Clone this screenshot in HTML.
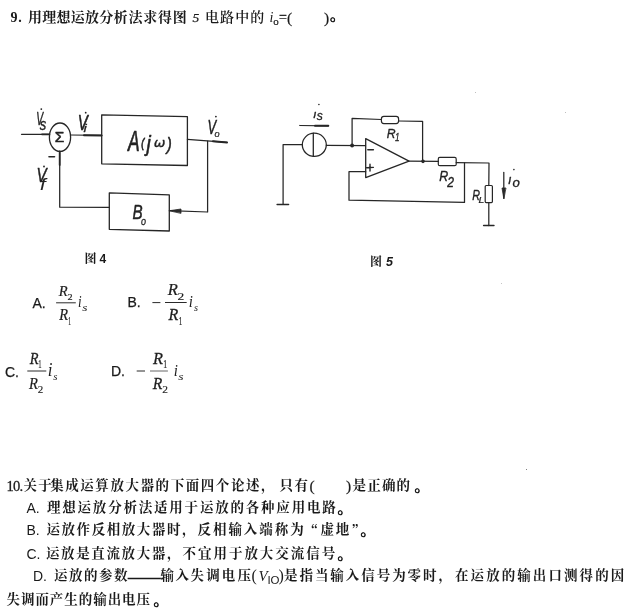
<!DOCTYPE html>
<html lang="zh">
<head>
<meta charset="utf-8">
<title>运放试题</title>
<style>
html,body{margin:0;padding:0;background:#fff;}
body{width:630px;height:611px;position:relative;overflow:hidden;color:#1a1a1a;
  font-family:"Liberation Serif","Noto Serif CJK SC",serif;}
.ln{position:absolute;white-space:nowrap;font-size:14px;line-height:20px;font-weight:600;letter-spacing:0.4px;}
.ln span{position:absolute;top:0;white-space:nowrap;}
.sans{font-family:"Liberation Sans","Noto Sans CJK SC",sans-serif;font-weight:400;letter-spacing:0;}
.q .sans{font-size:14px;}
.q{font-size:13.5px;letter-spacing:1.6px;font-weight:700;}
.ln{left:0;width:630px;}
.ln span.cj{position:static;font-family:"Noto Serif CJK SC",serif;}
.ln span.pp{letter-spacing:0;font-weight:400;font-size:15.5px;-webkit-text-stroke:0.2px #1a1a1a;}
.ln span.dot{font-weight:900;font-size:15px;-webkit-text-stroke:0.6px #1a1a1a;}
.ln span.cj2{font-family:"Noto Serif CJK SC",serif;letter-spacing:0;}
.ln i.p{font-style:normal;letter-spacing:0;font-weight:400;}
.ln i.v{font-style:italic;letter-spacing:0;font-weight:400;}
.ln b.g{display:inline-block;width:1.5px;height:1px;}
.ln sub{font-size:9.5px;vertical-align:baseline;position:relative;top:2.5px;letter-spacing:0;}
.it{font-style:italic;}
.fig{position:absolute;font-size:12px;line-height:14px;font-weight:700;white-space:nowrap;}
.opt{position:absolute;font-family:"Liberation Sans",sans-serif;font-size:14px;line-height:16px;white-space:nowrap;-webkit-text-stroke:0.25px #1a1a1a;}
.m{position:absolute;font-family:"Liberation Serif",serif;font-style:italic;font-size:15.5px;line-height:16px;white-space:nowrap;}
.m sub{font-style:normal;font-size:9px;vertical-align:baseline;position:relative;top:3px;left:0.5px;}
.sp{position:absolute;border-radius:50%;}
#pg{position:absolute;left:0;top:0;width:630px;height:611px;will-change:transform;}
svg{position:absolute;left:0;top:0;}
.lb{font-size:100px;fill:#222;stroke:#222;stroke-width:2.5px;}
.lb circle{stroke:none;}
.fm{font-size:100px;fill:#1e1e1e;stroke:#1e1e1e;stroke-width:1.5px;}
</style>
</head>
<body>
<div id="pg">

<!-- question 9 -->
<div class="ln" style="top:8px;font-weight:600;letter-spacing:0.25px;">
  <span style="left:10.5px;letter-spacing:0.8px;font-weight:700;">9.</span>
  <span style="left:28px;font-weight:700;">用理想运放分析</span>
  <span style="left:128.5px;letter-spacing:0.75px;font-weight:700;">法求得图</span>
  <span style="left:192.5px;font-weight:400;font-size:13.5px;-webkit-text-stroke:0.25px #1a1a1a;" class="it">5</span>
  <span style="left:205px;letter-spacing:1.1px;">电路中的</span>
  <span style="left:269.5px;letter-spacing:0;font-weight:400;font-style:italic;">i</span>
  <span style="left:273.3px;top:3px;letter-spacing:0;font-weight:400;font-size:11px;-webkit-text-stroke:0.2px #1a1a1a;">o</span>
  <span style="left:279px;letter-spacing:0;font-weight:400;-webkit-text-stroke:0.3px #1a1a1a;">=</span>
  <span style="left:287px;top:-0.5px;" class="pp">(</span>
  <span style="left:324px;top:-0.5px;" class="pp">)</span>
  <span style="left:330px;top:-3px;" class="dot">。</span>
</div>

<!-- diagrams -->
<svg width="630" height="611" viewBox="0 0 630 611" fill="none" stroke="#262626" stroke-width="1.25" stroke-linecap="round" stroke-linejoin="round">
  <!-- figure 4 : feedback block diagram -->
  <g id="fig4">
    <path d="M21.5 134.3 L49.4 134.3"/>
    <path d="M42 134.3 L49.4 134.3" stroke-width="1.8"/>
    <ellipse cx="60" cy="137.2" rx="10.6" ry="14.2" stroke-width="1.3"/>
    <path d="M70.6 135 L101.6 135.4"/>
    <path d="M84 135.2 L101.6 135.4" stroke-width="2"/>
    <path d="M101.7 114.8 L187.4 116.7 L187.4 165.5 L101.7 163.8 Z" stroke-width="1.3"/>
    <path d="M187.4 139.3 L227 142.4"/>
    <path d="M213 141.3 L227 142.4" stroke-width="2"/>
    <path d="M207.6 141 L207.6 212 L169.3 210.7"/>
    <path d="M169.5 210.7 L181 209 L181 213 Z" fill="#2a2a2a" stroke-width="0.8"/>
    <path d="M109.3 192.9 L169.3 194.8 L169.3 231 L109.3 229.3 Z" stroke-width="1.3"/>
    <path d="M109.3 207.4 L59.7 207.2 L59.7 151.4"/>
    <path d="M59.7 151.4 L59.7 165" stroke-width="1.8"/>
    <path d="M49 156.8 L54.5 156.8" stroke-width="1.6"/>
  </g>
  <g class="lb">
<!--L4--><text transform="matrix(0.1030 0 0 0.1754 36.28 124.80)" font-family="'Liberation Sans'" font-style="italic">V</text>
    <text transform="matrix(0.1292 0 0 0.1636 39.80 130.14)" font-family="'Liberation Sans'" font-style="italic">s</text>
    <text transform="matrix(0.1507 0 0 0.2203 77.79 129.80)" font-family="'Liberation Sans'" font-style="italic">V</text>
    <text transform="matrix(0.1458 0 0 0.1041 83.55 132.40)" font-family="'Liberation Sans'" font-style="italic">i</text>
    <text transform="matrix(0.1522 0 0 0.1971 36.48 182.40)" font-family="'Liberation Sans'" font-style="italic">V</text>
    <text transform="matrix(0.2029 0 0 0.1740 39.99 190.00)" font-family="'Liberation Sans'" font-style="italic" stroke-width="0.5">f</text>
    <text transform="matrix(0.1299 0 0 0.1942 207.56 133.70)" font-family="'Liberation Sans'" font-style="italic">V</text>
    <text transform="matrix(0.0920 0 0 0.0927 214.52 136.71)" font-family="'Liberation Sans'" font-style="italic">o</text>
    <text transform="matrix(0.1547 0 0 0.1377 54.73 141.90)" font-family="'Liberation Sans'" font-style="normal" stroke-width="3.5">Σ</text>
    <text transform="matrix(0.1746 0 0 0.2957 127.97 151.00)" font-family="'Liberation Sans'" font-style="italic">A</text>
    <text transform="matrix(0.0921 0 0 0.1351 141.13 146.66)" font-family="'Liberation Sans'" font-style="italic" stroke-width="6">(</text>
    <text transform="matrix(0.1919 0 0 0.2277 146.60 151.02)" font-family="'Liberation Sans'" font-style="italic">j</text>
    <text transform="matrix(0.1392 0 0 0.1232 153.66 146.88)" font-family="'DejaVu Sans'" font-style="italic">ω</text>
    <text transform="matrix(0.1526 0 0 0.1872 166.73 149.97)" font-family="'Liberation Sans'" font-style="italic">)</text>
    <text transform="matrix(0.1525 0 0 0.2087 132.54 219.00)" font-family="'Liberation Sans'" font-style="italic">B</text>
    <text transform="matrix(0.0900 0 0 0.1127 141.03 225.09)" font-family="'Liberation Sans'" font-style="italic">o</text><!--/L4-->
    <circle cx="41.3" cy="109.1" r="0.9"/><circle cx="85.7" cy="112.7" r="0.9"/><circle cx="44" cy="166.5" r="0.9"/><circle cx="215.9" cy="116.6" r="0.9"/>
  </g>

  <!-- figure 5 : op-amp circuit -->
  <g id="fig5">
    <ellipse cx="314.3" cy="144.8" rx="12" ry="11.6" stroke-width="1.3"/>
    <path d="M313.3 133.2 L313.3 156.4" stroke-width="1.3"/>
    <path d="M302.2 144.5 L283.1 144.5 L283.1 204.3"/>
    <path d="M277.1 204.5 L288.6 204.5" stroke-width="1.4"/>
    <path d="M299.8 125.5 L328.3 125.8"/>
    <path d="M315 125.7 L328.3 125.8" stroke-width="2"/>
    <path d="M326.4 145.3 L365.5 145.7"/>
    <circle cx="352.1" cy="145.5" r="1.3" fill="#2a2a2a"/>
    <path d="M352.1 145.5 L352.1 118.3 L381.4 119.5"/>
    <rect x="381.4" y="116.4" width="17.2" height="7.2" rx="2.5" ry="2.5" stroke-width="1.2"/>
    <path d="M398.6 121 L422.6 121.3 L422.6 161.2"/>
    <path d="M365.7 138.6 L365.7 177.6 L409 161.2 Z" stroke-width="1.3"/>
    <path d="M367.8 149.8 L373.4 149.8" stroke-width="1.4"/>
    <path d="M366.6 167.8 L373.4 167.4 M370 164.3 L370 171" stroke-width="1.4"/>
    <path d="M365.7 171.7 L349 171.7 L349 200.2 L464.5 202.4 L464.5 162.9"/>
    <path d="M408 161.2 L438.3 161.4"/>
    <circle cx="423" cy="161.3" r="1.2" fill="#2a2a2a"/>
    <rect x="438.3" y="157.4" width="17.9" height="8.3" rx="1.5" ry="1.5" stroke-width="1.2"/>
    <path d="M456.2 162.6 L489 163 L488.8 185.5"/>
    <rect x="485.2" y="185.5" width="7.2" height="17.1" rx="1" ry="1" stroke-width="1.2"/>
    <path d="M488.8 202.6 L488.8 225.5"/>
    <path d="M483.6 225.5 L494 225.5" stroke-width="1.4"/>
    <path d="M503.8 172.4 L503.8 198"/>
    <path d="M503.8 198.6 L502 188 L505.6 188 Z" fill="#2a2a2a" stroke-width="0.8"/>
  </g>
  <g class="lb">
<!--L5--><text transform="matrix(0.1300 0 0 0.1170 313.08 117.50)" font-family="'Liberation Sans'" font-style="italic">ı</text>
    <text transform="matrix(0.1208 0 0 0.1200 316.80 120.48)" font-family="'Liberation Sans'" font-style="italic">s</text>
    <text transform="matrix(0.1224 0 0 0.1329 386.63 138.20)" font-family="'Liberation Sans'" font-style="italic">R</text>
    <text transform="matrix(0.0826 0 0 0.1058 395.03 141.30)" font-family="'Liberation Sans'" font-style="italic">1</text>
    <text transform="matrix(0.1239 0 0 0.1486 439.23 181.00)" font-family="'Liberation Sans'" font-style="italic">R</text>
    <text transform="matrix(0.1214 0 0 0.1471 447.32 186.70)" font-family="'Liberation Sans'" font-style="italic">2</text>
    <text transform="matrix(0.1075 0 0 0.1400 472.28 200.00)" font-family="'Liberation Sans'" font-style="italic">R</text>
    <text transform="matrix(0.1043 0 0 0.0899 478.49 202.60)" font-family="'Liberation Sans'" font-style="italic">L</text>
    <text transform="matrix(0.1300 0 0 0.1358 508.08 184.00)" font-family="'Liberation Sans'" font-style="italic">ı</text>
    <text transform="matrix(0.1320 0 0 0.1200 512.50 186.98)" font-family="'Liberation Sans'" font-style="italic">o</text><!--/L5-->
    <circle cx="318.9" cy="104.5" r="0.8"/><circle cx="513.9" cy="169.6" r="0.8"/>
  </g>
</svg>

<div class="fig" style="left:84.5px;top:251.5px;">图</div>
<div class="fig sans" style="left:99.5px;top:251.5px;font-size:12px;">4</div>
<div class="fig" style="left:370px;top:254.5px;">图</div>
<div class="fig sans it" style="left:386px;top:255px;font-size:12.5px;">5</div>

<!-- options -->
<div class="opt" style="left:32.5px;top:294.5px;">A.</div>
<div class="opt" style="left:127.5px;top:294px;">B.</div>
<div class="opt" style="left:5px;top:363.5px;">C.</div>
<div class="opt" style="left:111px;top:363px;">D.</div>
<svg width="630" height="611" viewBox="0 0 630 611">
  <g stroke="#2a2a2a" stroke-width="1" fill="none">
    <path d="M56.1 302.8 H75.8"/>
    <path d="M152.4 302.6 H160.4"/><path d="M165 302.5 H186.7"/>
    <path d="M27.3 371 H46.3"/>
    <path d="M136.7 371 H145"/><path d="M150 371 H167.9" stroke="#666"/>
  </g>
  <g class="fm">
    <!--L6--><text transform="matrix(0.1459 0 0 0.1485 58.85 295.65)" font-family="'Liberation Serif'" font-style="italic">R</text>
    <text transform="matrix(0.1024 0 0 0.0910 67.39 299.51)" font-family="'Liberation Serif'" font-style="normal">2</text>
    <text transform="matrix(0.1443 0 0 0.1621 59.14 320.34)" font-family="'Liberation Serif'" font-style="italic">R</text>
    <text transform="matrix(0.0556 0 0 0.1227 68.16 324.80)" font-family="'Liberation Serif'" font-style="normal">1</text>
    <text transform="matrix(0.1300 0 0 0.1642 78.05 306.64)" font-family="'Liberation Serif'" font-style="italic" stroke="none">i</text>
    <text transform="matrix(0.1343 0 0 0.1104 82.17 311.19)" font-family="'Liberation Serif'" font-style="italic" stroke="none">s</text>
    <text transform="matrix(0.1656 0 0 0.1652 167.67 295.13)" font-family="'Liberation Serif'" font-style="italic">R</text>
    <text transform="matrix(0.1341 0 0 0.1045 177.46 299.50)" font-family="'Liberation Serif'" font-style="normal">2</text>
    <text transform="matrix(0.1607 0 0 0.1667 168.56 320.33)" font-family="'Liberation Serif'" font-style="italic">R</text>
    <text transform="matrix(0.0722 0 0 0.1182 178.82 324.50)" font-family="'Liberation Serif'" font-style="normal">1</text>
    <text transform="matrix(0.1500 0 0 0.1672 188.85 306.83)" font-family="'Liberation Serif'" font-style="italic" stroke="none">i</text>
    <text transform="matrix(0.1029 0 0 0.1021 194.10 311.20)" font-family="'Liberation Serif'" font-style="italic" stroke="none">s</text>
    <text transform="matrix(0.1443 0 0 0.1727 29.74 364.03)" font-family="'Liberation Serif'" font-style="italic">R</text>
    <text transform="matrix(0.0667 0 0 0.1258 38.37 368.30)" font-family="'Liberation Serif'" font-style="normal">1</text>
    <text transform="matrix(0.1459 0 0 0.1652 29.05 389.13)" font-family="'Liberation Serif'" font-style="italic">R</text>
    <text transform="matrix(0.1098 0 0 0.1104 37.66 393.29)" font-family="'Liberation Serif'" font-style="normal">2</text>
    <text transform="matrix(0.1700 0 0 0.1791 47.65 375.82)" font-family="'Liberation Serif'" font-style="italic" stroke="none">i</text>
    <text transform="matrix(0.1086 0 0 0.0979 53.19 379.80)" font-family="'Liberation Serif'" font-style="italic" stroke="none">s</text>
    <text transform="matrix(0.1639 0 0 0.1727 152.96 364.23)" font-family="'Liberation Serif'" font-style="italic">R</text>
    <text transform="matrix(0.0778 0 0 0.1212 163.18 368.40)" font-family="'Liberation Serif'" font-style="normal">1</text>
    <text transform="matrix(0.1574 0 0 0.1667 152.76 389.13)" font-family="'Liberation Serif'" font-style="italic">R</text>
    <text transform="matrix(0.1146 0 0 0.0985 162.14 392.70)" font-family="'Liberation Serif'" font-style="normal">2</text>
    <text transform="matrix(0.1500 0 0 0.1731 173.85 375.63)" font-family="'Liberation Serif'" font-style="italic" stroke="none">i</text>
    <text transform="matrix(0.1371 0 0 0.1000 178.36 379.90)" font-family="'Liberation Serif'" font-style="italic" stroke="none">s</text><!--/L6-->
  </g>
</svg>

<!-- scan specks -->
<div class="sp" style="left:525.5px;top:468.5px;width:1.6px;height:1.6px;background:#555;"></div>
<div class="sp" style="left:501px;top:283px;width:1.4px;height:1px;background:#bbb;"></div>
<div class="sp" style="left:475px;top:92px;width:1.2px;height:1.2px;background:#aaa;"></div>
<div class="sp" style="left:565px;top:112px;width:1.2px;height:1.2px;background:#aaa;"></div>

<!-- question 10 -->
<div class="ln q" style="top:476px;letter-spacing:1.47px;">
  <span style="left:6.5px;letter-spacing:-0.8px;font-size:14.5px;font-weight:400;-webkit-text-stroke:0.3px #1a1a1a;">10.</span>
  <span style="left:23.5px;letter-spacing:1.34px;">关于</span>
  <span style="left:50.2px;letter-spacing:1.56px;">集成运算放大器的下面四个论述，</span>
  <span style="left:279.5px;">只有</span>
  <span style="left:309.5px;" class="pp">(</span>
  <span style="left:346px;" class="pp">)</span>
  <span style="left:352.5px;letter-spacing:1.2px;">是正确的</span>
  <span style="left:414.5px;" class="dot">。</span>
</div>
<div class="ln q" style="top:498px;letter-spacing:1.79px;">
  <span style="left:26.5px;" class="sans">A.</span>
  <span style="left:47px;">理想运放分析法适用于运放的各种应用电路</span>
  <span style="left:337.5px;" class="dot">。</span>
</div>
<div class="ln q" style="top:520px;letter-spacing:1.55px;">
  <span style="left:26.5px;" class="sans">B.</span>
  <span style="left:46.5px;">运放作反相放大器时，</span>
  <span style="left:197.5px;letter-spacing:1.95px;">反相输入端称为</span>
  <span style="left:304.5px;" class="cj2">“</span>
  <span style="left:320.5px;letter-spacing:1.7px;">虚地</span>
  <span style="left:351.5px;" class="cj2">”</span>
  <span style="left:360.5px;" class="dot">。</span>
</div>
<div class="ln q" style="top:544px;letter-spacing:1.62px;">
  <span style="left:26.5px;" class="sans">C.</span>
  <span style="left:46px;">运放是直流放大器，</span>
  <span style="left:182.5px;letter-spacing:1.97px;">不宜用于放大交流信号</span>
  <span style="left:337.5px;" class="dot">。</span>
</div>
<div class="ln q" style="top:566px;">
  <span style="left:33px;" class="sans">D.</span>
  <span style="left:54px;letter-spacing:1.50px;">运放的参数</span>
  <span style="left:126.5px;top:-0.5px;letter-spacing:0;font-size:16.5px;-webkit-text-stroke:0.3px #1a1a1a;transform:scaleX(1.19);transform-origin:0 0;" class="cj2">——</span>
  <span style="left:160.5px;letter-spacing:1.5px;">输入</span>
  <span style="left:190.5px;letter-spacing:2.15px;">失调电压</span>
  <span style="left:251.5px;letter-spacing:0;font-weight:400;font-size:16px;">(</span>
  <span style="left:258.5px;letter-spacing:0;font-weight:400;font-size:15px;font-style:italic;">V</span>
  <span style="left:267.5px;top:3.5px;letter-spacing:-0.3px;font-size:11.5px;" class="sans">IO</span>
  <span style="left:278.5px;letter-spacing:0;font-weight:400;font-size:16px;">)</span>
  <span style="left:284px;letter-spacing:1.95px;">是指当输入信号为零时，</span>
  <span style="left:455px;letter-spacing:2.07px;">在运放的输出口测得的因</span>
</div>
<div class="ln" style="top:589.5px;font-size:13.5px;letter-spacing:0.95px;font-weight:700;">
  <span style="left:6.5px;">失调而产生的输出电压</span>
  <span style="left:153.5px;" class="dot">。</span>
</div>

</div>
</body>
</html>
